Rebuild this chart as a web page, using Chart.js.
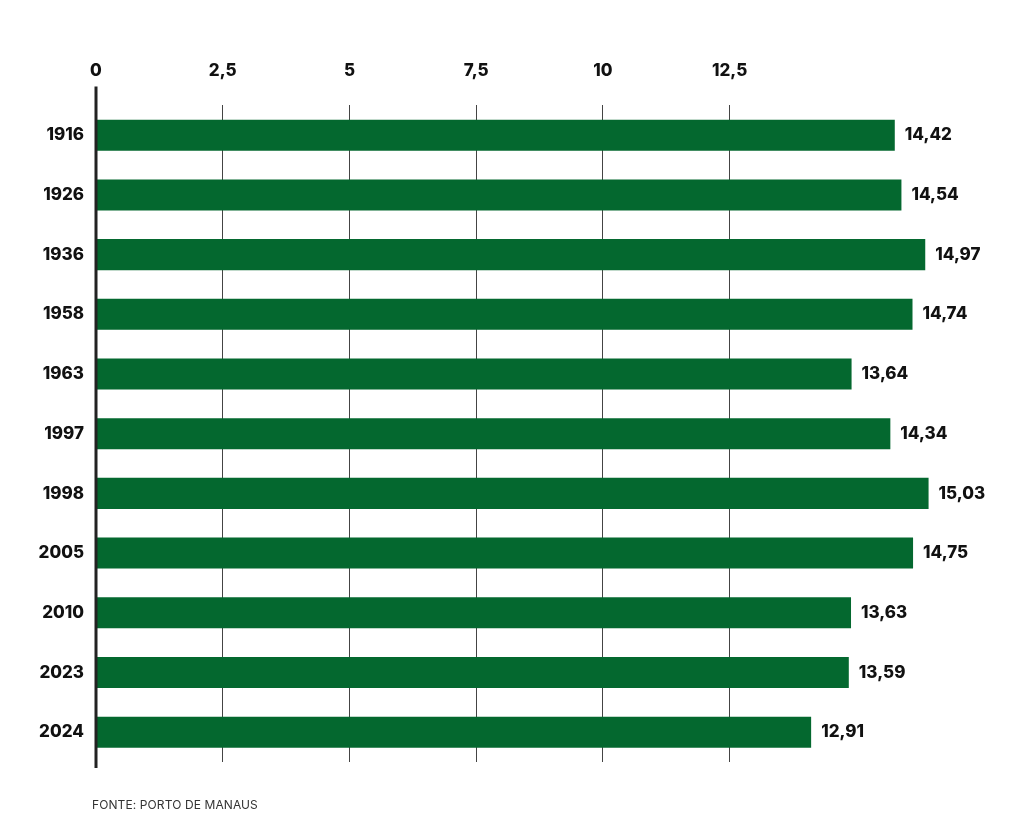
<!DOCTYPE html>
<html>
<head>
<meta charset="utf-8">
<script src="https://cdn.jsdelivr.net/npm/chart.js@4/dist/chart.umd.min.js"></script>
<style>
  body { margin: 0; background: #fff; }
  #wrap { position: relative; width: 1024px; height: 830px; }
  #source {
    position: absolute; left: 92px; top: 797px;
    font: 12px 'Inter', sans-serif; color: #333; letter-spacing: 0.1px;
  }
</style>
</head>
<body>
<div id="wrap">
  <canvas id="level-chart"></canvas>
  <div id="source">FONTE: PORTO DE MANAUS</div>
</div>
<script>
const years = ['1916', '1926', '1936', '1958', '1963', '1997', '1998', '2005', '2010', '2023', '2024'];
const levels = [14.42, 14.54, 14.97, 14.74, 13.64, 14.34, 15.03, 14.75, 13.63, 13.59, 12.91];
const axisTicks = [0, 2.5, 5, 7.5, 10, 12.5];

const barGreen = '#04682f';
const labelFont = { family: 'Inter', size: 17, weight: '800' };

function fmt(v) {
    return String(v).replace('.', ',');
}

// thick vertical axis line, runs a bit past the plot area like in the print
const axisLine = {
    id: 'axisLine',
    afterDatasetsDraw(chart) {
        const { ctx, chartArea } = chart;
        ctx.save();
        ctx.strokeStyle = '#222';
        ctx.lineWidth = 3;
        ctx.beginPath();
        ctx.moveTo(chartArea.left, chartArea.top - 19);
        ctx.lineTo(chartArea.left, chartArea.bottom + 6);
        ctx.stroke();
        ctx.restore();
    }
};

// value next to every bar
const valueLabels = {
    id: 'valueLabels',
    afterDatasetsDraw(chart) {
        const { ctx } = chart;
        const meta = chart.getDatasetMeta(0);
        ctx.save();
        ctx.font = '800 17px Inter';
        ctx.fillStyle = '#111';
        ctx.textBaseline = 'middle';
        meta.data.forEach((bar, i) => {
            ctx.fillText(fmt(levels[i]), bar.x + 10, bar.y);
        });
        ctx.restore();
    }
};

function buildLevelChart(container) {
    const config = {
        type: 'bar',
        data: {
            labels: years,
            datasets: [{
                data: levels,
                backgroundColor: barGreen,
                xAxisID: 'x',
                yAxisID: 'y',
                barPercentage: 0.52,
                categoryPercentage: 1
            }]
        },
        options: {
            indexAxis: 'y',
            responsive: true,
            maintainAspectRatio: false,
            animation: false,
            layout: { padding: { left: 0, right: 14, top: 37, bottom: 68 } },
            plugins: {
                legend: { display: false },
                tooltip: { enabled: false }
            },
            scales: {
                x: {
                    display: false,
                    min: 0,
                    max: 16.5
                },
                x2: {
                    type: 'linear',
                    position: 'top',
                    min: 0,
                    max: 18.03,
                    afterBuildTicks: (axis) => {
                        axis.ticks = axisTicks.map(v => ({ value: v }));
                    },
                    ticks: {
                        color: '#111',
                        font: labelFont,
                        padding: 24,
                        callback: (v) => fmt(v)
                    },
                    grid: {
                        drawTicks: false,
                        color: (c) => (c.tick && c.tick.value > 0) ? '#444' : 'transparent',
                        lineWidth: 1
                    },
                    border: { display: false }
                },
                y: {
                    afterFit: (s) => { s.width = 96; },
                    ticks: {
                        color: '#111',
                        font: labelFont,
                        padding: 12
                    },
                    grid: { display: false, drawTicks: false },
                    border: { display: false }
                }
            }
        },
        plugins: [axisLine, valueLabels]
    };

    new Chart(container, config);
}

addEventListener('DOMContentLoaded', () => {
    const el = document.getElementById('level-chart');
    if (el) {
        buildLevelChart(el);
    }
});
</script>
</body>
</html>
